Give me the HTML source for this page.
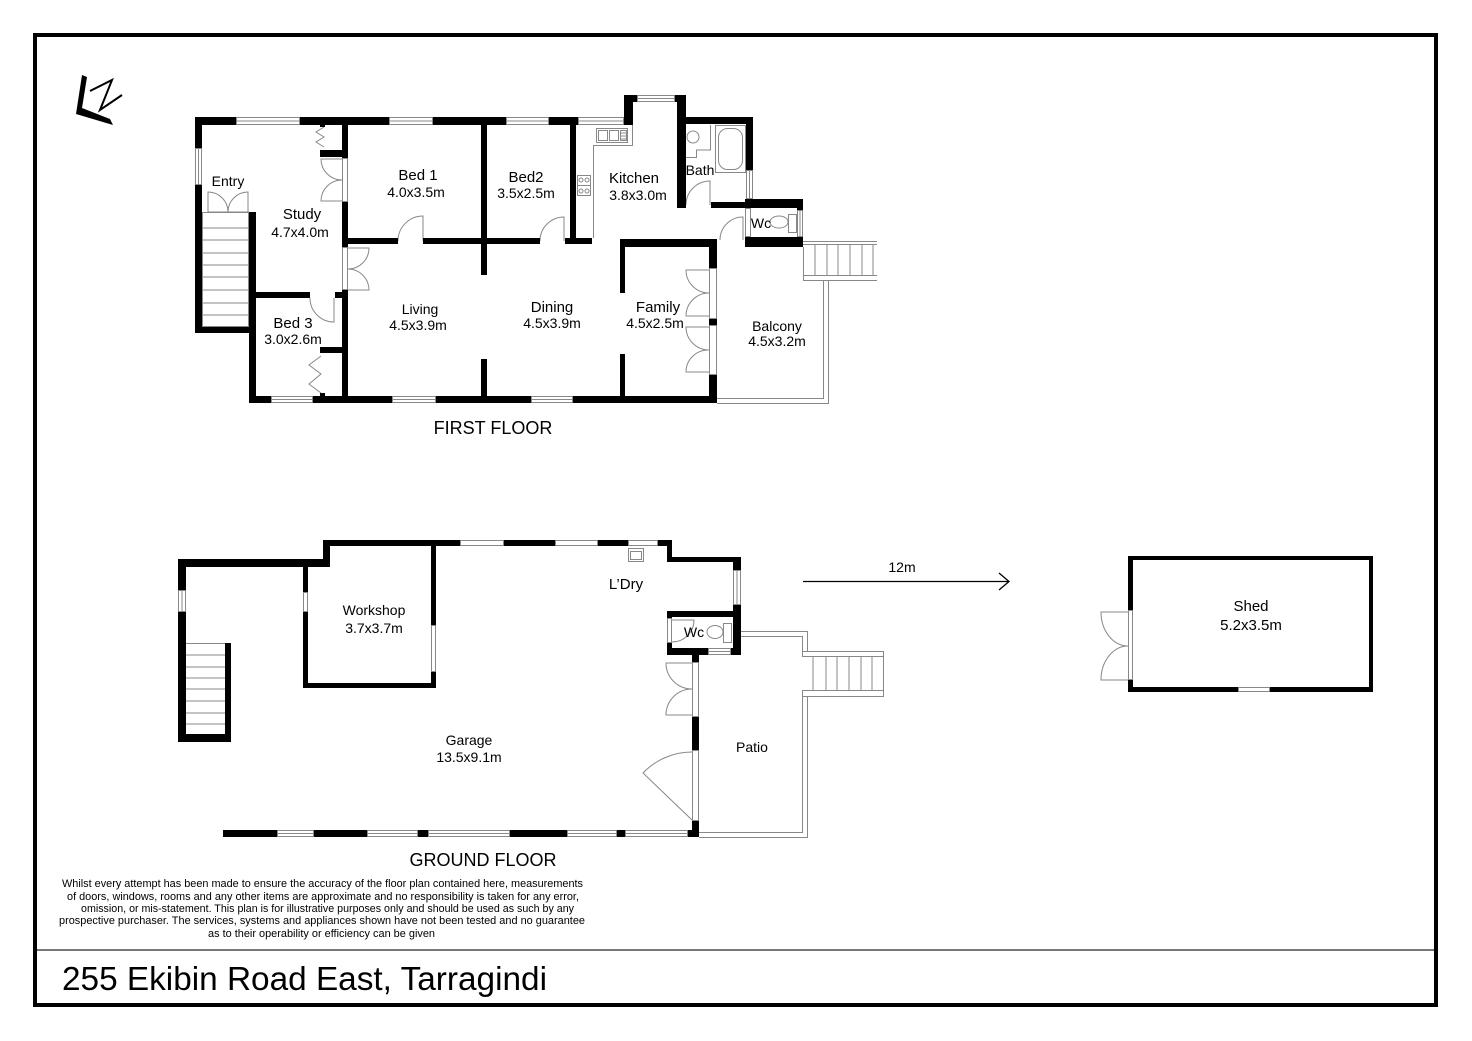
<!DOCTYPE html>
<html><head><meta charset="utf-8"><style>
html,body{margin:0;padding:0;background:#fff;}
svg{display:block;}
text{font-family:"Liberation Sans",Arial,sans-serif;fill:#000;}
</style></head><body>
<svg width="1472" height="1041" viewBox="0 0 1472 1041" xmlns="http://www.w3.org/2000/svg">
<rect x="0" y="0" width="1472" height="1041" fill="#fff"/>
<!-- frame -->
<rect x="35" y="35" width="1401" height="970" fill="none" stroke="#000" stroke-width="4"/>
<line x1="37" y1="950" x2="1434" y2="950" stroke="#777" stroke-width="2"/>

<!-- compass -->
<polygon points="82,75 87,77 82,108 110,119 113,125 76,114" fill="#000"/>
<path d="M90,91 L112,80 L100,110 L122,95" fill="none" stroke="#000" stroke-width="2"/>

<!-- ============ FIRST FLOOR thin details ============ -->
<g fill="none" stroke="#888" stroke-width="1">
  <rect x="202.5" y="212.5" width="46" height="114"/>
  <line x1="202" y1="228" x2="249" y2="228"/><line x1="202" y1="240" x2="249" y2="240"/>
  <line x1="202" y1="253" x2="249" y2="253"/><line x1="202" y1="265" x2="249" y2="265"/>
  <line x1="202" y1="277" x2="249" y2="277"/><line x1="202" y1="290" x2="249" y2="290"/>
  <line x1="202" y1="303" x2="249" y2="303"/><line x1="202" y1="315" x2="249" y2="315"/>
  <line x1="803" y1="241.5" x2="877" y2="241.5"/><line x1="803" y1="244.5" x2="877" y2="244.5"/>
  <line x1="803" y1="275.5" x2="877" y2="275.5"/><line x1="803" y1="280.5" x2="877" y2="280.5"/>
  <line x1="803.5" y1="247" x2="803.5" y2="280"/>
  <line x1="815" y1="244" x2="815" y2="276"/><line x1="827" y1="244" x2="827" y2="276"/>
  <line x1="838" y1="244" x2="838" y2="276"/><line x1="850" y1="244" x2="850" y2="276"/>
  <line x1="862" y1="244" x2="862" y2="276"/><line x1="873" y1="244" x2="873" y2="276"/>
  <line x1="823.5" y1="280" x2="823.5" y2="399"/><line x1="828.5" y1="280" x2="828.5" y2="404"/>
  <line x1="717" y1="398.5" x2="824" y2="398.5"/><line x1="717" y1="403.5" x2="829" y2="403.5"/>
  <polyline points="632.5,124 632.5,145.5 593.5,145.5 593.5,238"/>
  <rect x="596.5" y="128.5" width="31" height="14"/>
  <rect x="598.5" y="130.5" width="9" height="10"/><rect x="609.5" y="130.5" width="9" height="10"/>
  <rect x="620.5" y="130.5" width="6" height="10"/>
  <line x1="621" y1="133" x2="626" y2="133"/><line x1="621" y1="136" x2="626" y2="136"/><line x1="621" y1="139" x2="626" y2="139"/>
  <rect x="577.5" y="175.5" width="13" height="20"/>
  <circle cx="581" cy="180" r="2"/><circle cx="587" cy="180" r="2"/>
  <circle cx="581" cy="191" r="2"/><circle cx="587" cy="191" r="2"/>
  <line x1="578" y1="185.5" x2="590" y2="185.5"/>
  <rect x="715.5" y="125.5" width="30" height="47"/>
  <rect x="718.5" y="128.5" width="24" height="41" rx="9"/>
  <polyline points="686,157.5 696.5,157.5 696.5,150 710.5,150 710.5,125"/>
  <circle cx="693" cy="137" r="6"/>
  <ellipse cx="779" cy="222" rx="9" ry="6"/>
  <rect x="788.5" y="214.5" width="8" height="18"/>
  <rect x="745.5" y="208.5" width="5" height="28"/>
  <rect x="342.5" y="158.5" width="5" height="43"/>
  <rect x="342.5" y="247.5" width="5" height="42"/>
  <rect x="709.5" y="268.5" width="7" height="50"/>
  <rect x="709.5" y="325.5" width="7" height="49"/>
  <rect x="208.5" y="212" width="40" height="0.5"/>
  <path d="M208,212 L208,192 A20,20 0 0 1 228,212"/>
  <path d="M248,212 L248,192 A20,20 0 0 0 228,212"/>
  <path d="M342,159 L321,159 A21,21 0 0 0 342,180"/>
  <path d="M342,201 L321,201 A21,21 0 0 1 342,180"/>
  <path d="M348,248 L369,248 A21,21 0 0 1 348,269"/>
  <path d="M348,290 L369,290 A21,21 0 0 0 348,269"/>
  <path d="M423,241 L423,216 A25,25 0 0 0 398,241"/>
  <path d="M334,298 L334,322 A24,24 0 0 1 310,298"/>
  <path d="M564,241 L564,217 A24,24 0 0 0 540,241"/>
  <path d="M710,205 L710,181 A24,24 0 0 0 686,205"/>
  <path d="M743,240 L743,217 A23,23 0 0 0 720,240"/>
  <path d="M709,270 L686,270 A23,23 0 0 0 709,293"/>
  <path d="M709,316 L686,316 A23,23 0 0 1 709,293"/>
  <path d="M709,327 L686,327 A23,23 0 0 0 709,350"/>
  <path d="M709,372 L686,372 A22,22 0 0 1 709,350"/>
  <polyline points="324,127 316,132 324,137 316,142 324,147"/>
  <polyline points="321,356 309,365 321,374 309,384 321,393"/>
</g>

<!-- ============ FIRST FLOOR walls ============ -->
<g fill="#000">
  <rect x="195" y="117" width="41" height="8"/>
  <rect x="300" y="117" width="89" height="8"/>
  <rect x="433" y="117" width="73" height="8"/>
  <rect x="549" y="117" width="29" height="8"/>
  <rect x="624" y="95" width="9" height="30"/>
  <rect x="624" y="95" width="13" height="7"/>
  <rect x="675" y="95" width="11" height="7"/>
  <rect x="677" y="95" width="9" height="113"/>
  <rect x="686" y="117" width="67" height="7"/>
  <rect x="746" y="117" width="7" height="53"/>
  <rect x="745" y="199" width="58" height="9"/>
  <rect x="797" y="199" width="6" height="11"/>
  <rect x="797" y="237" width="6" height="10"/>
  <rect x="745" y="237" width="58" height="10"/>
  <rect x="677" y="202" width="9" height="6"/>
  <rect x="711" y="202" width="35" height="6"/>
  <rect x="195" y="117" width="7" height="31"/>
  <rect x="195" y="185" width="7" height="148"/>
  <rect x="195" y="327" width="61" height="6"/>
  <rect x="249" y="212" width="7" height="191"/>
  <rect x="249" y="396" width="22" height="7"/>
  <rect x="313" y="396" width="79" height="7"/>
  <rect x="436" y="396" width="95" height="7"/>
  <rect x="573" y="396" width="144" height="7"/>
  <rect x="256" y="292" width="54" height="6"/>
  <rect x="335" y="292" width="7" height="6"/>
  <rect x="342" y="117" width="6" height="41"/>
  <rect x="342" y="202" width="6" height="45"/>
  <rect x="342" y="290" width="6" height="113"/>
  <rect x="320" y="150" width="22" height="7"/>
  <rect x="320" y="124" width="5" height="3"/>
  <rect x="320" y="347" width="22" height="6"/>
  <rect x="320" y="393" width="5" height="4"/>
  <rect x="348" y="238" width="50" height="6"/>
  <rect x="423" y="238" width="117" height="6"/>
  <rect x="565" y="238" width="27" height="6"/>
  <rect x="481" y="117" width="6" height="158"/>
  <rect x="481" y="359" width="6" height="44"/>
  <rect x="570" y="117" width="6" height="127"/>
  <rect x="620" y="239" width="97" height="8"/>
  <rect x="620" y="239" width="5" height="54"/>
  <rect x="620" y="354" width="5" height="49"/>
  <rect x="709" y="239" width="8" height="29"/>
  <rect x="709" y="319" width="8" height="6"/>
  <rect x="709" y="375" width="8" height="28"/>
</g>

<g fill="#fff" stroke="#888" stroke-width="1">
  <rect x="236.5" y="117.5" width="63" height="7"/>
  <rect x="389.5" y="117.5" width="43" height="7"/>
  <rect x="506.5" y="117.5" width="42" height="7"/>
  <rect x="578.5" y="117.5" width="45" height="7"/>
  <rect x="637.5" y="95.5" width="37" height="6"/>
  <rect x="271.5" y="396.5" width="41" height="6"/>
  <rect x="392.5" y="396.5" width="43" height="6"/>
  <rect x="531.5" y="396.5" width="41" height="6"/>
  <rect x="195.5" y="148.5" width="6" height="36"/>
  <rect x="746.5" y="170.5" width="6" height="28"/>
  <rect x="797.5" y="210.5" width="5" height="26"/>
</g>
<g stroke="#888" stroke-width="1">
  <line x1="236" y1="121" x2="300" y2="121"/>
  <line x1="389" y1="121" x2="433" y2="121"/>
  <line x1="506" y1="121" x2="549" y2="121"/>
  <line x1="578" y1="121" x2="624" y2="121"/>
  <line x1="637" y1="98.5" x2="675" y2="98.5"/>
  <line x1="271" y1="399.5" x2="313" y2="399.5"/>
  <line x1="392" y1="399.5" x2="436" y2="399.5"/>
  <line x1="531" y1="399.5" x2="573" y2="399.5"/>
  <line x1="198.5" y1="148" x2="198.5" y2="185"/>
  <line x1="749.5" y1="170" x2="749.5" y2="199"/>
  <line x1="800" y1="210" x2="800" y2="237"/>
</g>

<!-- ============ GROUND FLOOR thin details ============ -->
<g fill="none" stroke="#888" stroke-width="1">
  <line x1="186" y1="643.5" x2="225" y2="643.5"/>
  <line x1="186" y1="655" x2="225" y2="655"/><line x1="186" y1="667" x2="225" y2="667"/>
  <line x1="186" y1="678" x2="225" y2="678"/><line x1="186" y1="689" x2="225" y2="689"/>
  <line x1="186" y1="701" x2="225" y2="701"/><line x1="186" y1="713" x2="225" y2="713"/>
  <line x1="186" y1="724" x2="225" y2="724"/>
  <line x1="741" y1="631.5" x2="808" y2="631.5"/><line x1="741" y1="636.5" x2="803" y2="636.5"/>
  <line x1="807.5" y1="631" x2="807.5" y2="651"/><line x1="802.5" y1="636" x2="802.5" y2="656"/>
  <line x1="802.5" y1="690" x2="802.5" y2="832"/><line x1="807.5" y1="696" x2="807.5" y2="838"/>
  <line x1="699" y1="832.5" x2="803" y2="832.5"/><line x1="699" y1="837.5" x2="808" y2="837.5"/>
  <line x1="802" y1="651.5" x2="883" y2="651.5"/><line x1="802" y1="656.5" x2="883" y2="656.5"/>
  <line x1="802" y1="690.5" x2="883" y2="690.5"/><line x1="802" y1="696.5" x2="883" y2="696.5"/>
  <line x1="883.5" y1="651" x2="883.5" y2="697"/>
  <line x1="813" y1="656" x2="813" y2="690"/><line x1="826" y1="656" x2="826" y2="690"/>
  <line x1="837" y1="656" x2="837" y2="690"/><line x1="849" y1="656" x2="849" y2="690"/>
  <line x1="861" y1="656" x2="861" y2="690"/><line x1="872" y1="656" x2="872" y2="690"/>
  <rect x="628.5" y="548.5" width="15" height="13"/>
  <rect x="630.5" y="551.5" width="11" height="8"/>
  <ellipse cx="715" cy="632" rx="8" ry="6.5"/>
  <rect x="723.5" y="623.5" width="8" height="19"/>
  <rect x="667.5" y="618.5" width="4" height="24"/>
  <path d="M672,620 L694,620 A22,22 0 0 1 672,642"/>
  <rect x="692.5" y="662.5" width="6" height="54"/>
  <rect x="692.5" y="750.5" width="6" height="70"/>
  <path d="M692,663 L666,663 A26,26 0 0 0 692,689"/>
  <path d="M692,715 L666,715 A26,26 0 0 1 692,689"/>
  <path d="M692,820 L643,773 A68,68 0 0 1 692,752"/>
  <rect x="1128.5" y="610.5" width="4" height="69"/>
  <path d="M1128,612 L1101,612 A27,34 0 0 0 1128,646"/>
  <path d="M1128,680 L1101,680 A27,34 0 0 1 1128,646"/>
</g>

<g fill="#000">
  <rect x="178" y="559" width="8" height="31"/>
  <rect x="178" y="612" width="8" height="130"/>
  <rect x="178" y="559" width="152" height="8"/>
  <rect x="323" y="540" width="7" height="27"/>
  <rect x="323" y="540" width="137" height="6"/>
  <rect x="504" y="540" width="51" height="6"/>
  <rect x="598" y="540" width="30" height="6"/>
  <rect x="658" y="540" width="14" height="6"/>
  <rect x="667" y="540" width="5" height="22"/>
  <rect x="667" y="557" width="74" height="5"/>
  <rect x="733" y="557" width="8" height="13"/>
  <rect x="733" y="605" width="8" height="50"/>
  <rect x="667" y="611" width="74" height="6"/>
  <rect x="667" y="611" width="5" height="7"/>
  <rect x="667" y="643" width="5" height="12"/>
  <rect x="667" y="648" width="41" height="7"/>
  <rect x="731" y="648" width="10" height="7"/>
  <rect x="692" y="648" width="7" height="14"/>
  <rect x="692" y="717" width="7" height="33"/>
  <rect x="692" y="821" width="7" height="16"/>
  <rect x="223" y="830" width="54" height="7"/>
  <rect x="314" y="830" width="53" height="7"/>
  <rect x="418" y="830" width="10" height="7"/>
  <rect x="510" y="830" width="57" height="7"/>
  <rect x="617" y="830" width="8" height="7"/>
  <rect x="688" y="830" width="11" height="7"/>
  <rect x="225" y="643" width="6" height="99"/>
  <rect x="178" y="734" width="53" height="8"/>
  <rect x="303" y="563" width="5" height="29"/>
  <rect x="303" y="612" width="5" height="76"/>
  <rect x="303" y="683" width="133" height="5"/>
  <rect x="431" y="546" width="5" height="79"/>
  <rect x="431" y="672" width="5" height="16"/>
  <rect x="1128" y="556" width="245" height="4"/>
  <rect x="1369" y="556" width="4" height="136"/>
  <rect x="1128" y="687" width="110" height="5"/>
  <rect x="1270" y="687" width="103" height="5"/>
  <rect x="1128" y="556" width="5" height="54"/>
  <rect x="1128" y="680" width="5" height="12"/>
</g>

<g fill="#fff" stroke="#888" stroke-width="1">
  <rect x="178.5" y="590.5" width="7" height="21"/>
  <rect x="733.5" y="570.5" width="7" height="34"/>
  <rect x="303.5" y="592.5" width="4" height="19"/>
  <rect x="431.5" y="625.5" width="4" height="46"/>
  <rect x="460.5" y="540.5" width="43" height="5"/>
  <rect x="555.5" y="540.5" width="42" height="5"/>
  <rect x="628.5" y="540.5" width="29" height="5"/>
  <rect x="708.5" y="648.5" width="22" height="6"/>
  <rect x="277.5" y="830.5" width="36" height="6"/>
  <rect x="367.5" y="830.5" width="50" height="6"/>
  <rect x="428.5" y="830.5" width="81" height="6"/>
  <rect x="567.5" y="830.5" width="49" height="6"/>
  <rect x="625.5" y="830.5" width="62" height="6"/>
  <rect x="1238.5" y="687.5" width="31" height="4"/>
</g>
<g stroke="#888" stroke-width="1">
  <line x1="182" y1="590" x2="182" y2="612"/>
  <line x1="737" y1="570" x2="737" y2="605"/>
  <line x1="277" y1="833.5" x2="314" y2="833.5"/>
  <line x1="367" y1="833.5" x2="418" y2="833.5"/>
  <line x1="428" y1="833.5" x2="510" y2="833.5"/>
  <line x1="567" y1="833.5" x2="617" y2="833.5"/>
  <line x1="625" y1="833.5" x2="688" y2="833.5"/>
  <line x1="708" y1="651.5" x2="731" y2="651.5"/>
</g>

<line x1="803" y1="581.5" x2="1009" y2="581.5" stroke="#000" stroke-width="1.3"/>
<polyline points="999,573 1009,581.5 999,590" fill="none" stroke="#000" stroke-width="1.3"/>

<g text-anchor="middle">
  <text x="228" y="186" font-size="14">Entry</text>
  <text x="302" y="219" font-size="15">Study</text>
  <text x="300" y="237" font-size="14">4.7x4.0m</text>
  <text x="418" y="180" font-size="15">Bed 1</text>
  <text x="416" y="197" font-size="14">4.0x3.5m</text>
  <text x="526" y="182" font-size="15">Bed2</text>
  <text x="526" y="198" font-size="14">3.5x2.5m</text>
  <text x="634" y="183" font-size="15">Kitchen</text>
  <text x="638" y="200" font-size="14">3.8x3.0m</text>
  <text x="700" y="175" font-size="14">Bath</text>
  <text x="761" y="228" font-size="14">Wc</text>
  <text x="293" y="328" font-size="15">Bed 3</text>
  <text x="293" y="344" font-size="14">3.0x2.6m</text>
  <text x="420" y="314" font-size="14">Living</text>
  <text x="418" y="330" font-size="14">4.5x3.9m</text>
  <text x="552" y="312" font-size="15">Dining</text>
  <text x="552" y="328" font-size="14">4.5x3.9m</text>
  <text x="658" y="312" font-size="15">Family</text>
  <text x="655" y="328" font-size="14">4.5x2.5m</text>
  <text x="777" y="331" font-size="14">Balcony</text>
  <text x="777" y="346" font-size="14">4.5x3.2m</text>
  <text x="493" y="434" font-size="18">FIRST FLOOR</text>

  <text x="374" y="615" font-size="14">Workshop</text>
  <text x="374" y="633" font-size="14">3.7x3.7m</text>
  <text x="626" y="589" font-size="15">L’Dry</text>
  <text x="694" y="637" font-size="14">Wc</text>
  <text x="752" y="752" font-size="14">Patio</text>
  <text x="469" y="745" font-size="14">Garage</text>
  <text x="469" y="762" font-size="14">13.5x9.1m</text>
  <text x="1251" y="611" font-size="15">Shed</text>
  <text x="1251" y="630" font-size="15">5.2x3.5m</text>
  <text x="902" y="572" font-size="14">12m</text>
  <text x="483" y="866" font-size="18">GROUND FLOOR</text>
</g>

<g font-size="11">
  <text x="62" y="887" textLength="521" lengthAdjust="spacingAndGlyphs">Whilst every attempt has been made to ensure the accuracy of the floor plan contained here, measurements</text>
  <text x="67" y="900" textLength="512" lengthAdjust="spacingAndGlyphs">of doors, windows, rooms and any other items are approximate and no responsibility is taken for any error,</text>
  <text x="81" y="912" textLength="493" lengthAdjust="spacingAndGlyphs">omission, or mis-statement. This plan is for illustrative purposes only and should be used as such by any</text>
  <text x="59" y="924" textLength="526" lengthAdjust="spacingAndGlyphs">prospective purchaser. The services, systems and appliances shown have not been tested and no guarantee</text>
  <text x="208" y="937" textLength="227" lengthAdjust="spacingAndGlyphs">as to their operability or efficiency can be given</text>
</g>

<text x="62" y="990" font-size="33.4" textLength="485" lengthAdjust="spacingAndGlyphs">255 Ekibin Road East, Tarragindi</text>
</svg>
</body></html>
